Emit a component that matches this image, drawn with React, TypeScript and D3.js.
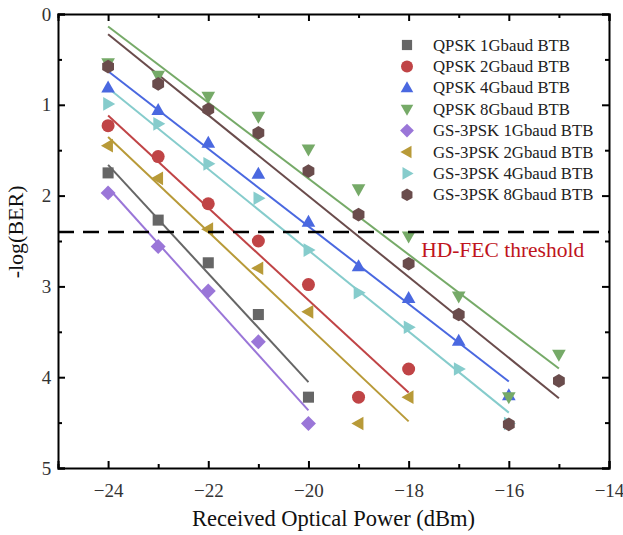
import React, { useEffect, useRef } from "react";
import * as d3 from "d3";

const powers = [-24, -23, -22, -21, -20, -19, -18, -17, -16, -15];

const seriesNames = [
  "QPSK 1Gbaud BTB",
  "QPSK 2Gbaud BTB",
  "QPSK 4Gbaud BTB",
  "QPSK 8Gbaud BTB",
  "GS-3PSK 1Gbaud BTB",
  "GS-3PSK 2Gbaud BTB",
  "GS-3PSK 4Gbaud BTB",
  "GS-3PSK 8Gbaud BTB",
];

const qpsk1 = [1.75, 2.27, 2.74, 3.31, 4.22];
const qpsk2 = [1.23, 1.57, 2.09, 2.5, 2.98, 4.22, 3.91];
const qpsk4 = [0.81, 1.06, 1.42, 1.76, 2.29, 2.78, 3.13, 3.6, 4.2];
const qpsk8 = [0.54, 0.68, 0.91, 1.13, 1.49, 1.93, 2.45, 3.11, 4.22, 3.75];
const gs1 = [1.97, 2.56, 3.05, 3.61, 4.51];
const gs2 = [1.45, 1.81, 2.37, 2.8, 3.28, 4.51, 4.22];
const gs4 = [0.99, 1.21, 1.65, 2.03, 2.6, 3.07, 3.45, 3.91, 4.51];
const gs8 = [0.58, 0.77, 1.05, 1.31, 1.73, 2.21, 2.75, 3.31, 4.52, 4.04];

const seriesValues = [qpsk1, qpsk2, qpsk4, qpsk8, gs1, gs2, gs4, gs8];
const colors = [
  "#666666",
  "#c04446",
  "#4a68e0",
  "#76aa68",
  "#9a76d8",
  "#b89a38",
  "#86cccc",
  "#6a4c4c",
];
const shapes = ["square", "circle", "up", "down", "diamond", "left", "right", "hex"];

const xTicks = [-24, -22, -20, -18, -16, -14];
const yTicks = [0, 1, 2, 3, 4, 5];
const threshold = 2.4;

const W = 623;
const H = 535;

function markerPath(shape: string, r: number) {
  const p = d3.path();
  if (shape === "square") {
    p.rect(-r * 0.85, -r * 0.85, r * 1.7, r * 1.7);
  } else if (shape === "circle") {
    p.arc(0, 0, r, 0, Math.PI * 2);
  } else if (shape === "up") {
    p.moveTo(0, -r * 1.1);
    p.lineTo(r * 1.05, r * 0.75);
    p.lineTo(-r * 1.05, r * 0.75);
    p.closePath();
  } else if (shape === "down") {
    p.moveTo(0, r * 1.1);
    p.lineTo(r * 1.05, -r * 0.75);
    p.lineTo(-r * 1.05, -r * 0.75);
    p.closePath();
  } else if (shape === "left") {
    p.moveTo(-r * 1.1, 0);
    p.lineTo(r * 0.75, -r * 1.05);
    p.lineTo(r * 0.75, r * 1.05);
    p.closePath();
  } else if (shape === "right") {
    p.moveTo(r * 1.1, 0);
    p.lineTo(-r * 0.75, -r * 1.05);
    p.lineTo(-r * 0.75, r * 1.05);
    p.closePath();
  } else if (shape === "diamond") {
    p.moveTo(0, -r * 1.15);
    p.lineTo(r * 1.15, 0);
    p.lineTo(0, r * 1.15);
    p.lineTo(-r * 1.15, 0);
    p.closePath();
  } else {
    for (let i = 0; i < 6; i++) {
      const a = (Math.PI / 3) * i + Math.PI / 6;
      const px = r * 1.05 * Math.cos(a);
      const py = r * 1.05 * Math.sin(a);
      if (i === 0) p.moveTo(px, py);
      else p.lineTo(px, py);
    }
    p.closePath();
  }
  return p.toString();
}

// least squares fit
function fit(xs: number[], ys: number[]) {
  const mx = d3.mean(xs) as number;
  const my = d3.mean(ys) as number;
  let sxy = 0;
  let sxx = 0;
  xs.forEach((x, i) => {
    sxy += (x - mx) * (ys[i] - my);
    sxx += (x - mx) * (x - mx);
  });
  const b = sxy / sxx;
  return (x: number) => my + b * (x - mx);
}

const App = () => {
  const ref = useRef<SVGSVGElement>(null);

  useEffect(() => {
    const svg = d3.select(ref.current);
    svg.selectAll("*").remove();

    const margin = { top: 14, right: 14, bottom: 67, left: 58 };
    const width = W - margin.left - margin.right;
    const height = H - margin.top - margin.bottom;
    const font = "'Liberation Serif', 'Times New Roman', serif";

    const x = d3.scaleLinear().domain([-25, -14]).range([0, width]);
    const y = d3.scaleLinear().domain([0, 5]).range([0, height]);

    const g = svg
      .append("g")
      .attr("transform", `translate(${margin.left},${margin.top})`);

    // fitted lines
    seriesValues.forEach((vals, i) => {
      const xs = powers.slice(0, vals.length);
      const f = fit(xs, vals);
      const x0 = xs[0];
      const x1 = xs[xs.length - 1];
      g.append("line")
        .attr("x1", x(x0))
        .attr("y1", y(f(x0)))
        .attr("x2", x(x1))
        .attr("y2", y(f(x1)))
        .attr("stroke", colors[i])
        .attr("stroke-width", 2);
    });

    // markers
    seriesValues.forEach((vals, i) => {
      g.selectAll(null)
        .data(vals)
        .enter()
        .append("path")
        .attr("transform", (d, j) => `translate(${x(powers[j])},${y(d)})`)
        .attr("d", markerPath(shapes[i], 6.5))
        .attr("fill", colors[i]);
    });

    // threshold
    g.append("line")
      .attr("x1", 0)
      .attr("x2", width)
      .attr("y1", y(threshold))
      .attr("y2", y(threshold))
      .attr("stroke", "#000")
      .attr("stroke-width", 2.5)
      .attr("stroke-dasharray", "16,9");

    g.append("text")
      .attr("x", x(-17.75))
      .attr("y", y(threshold) + 25)
      .attr("fill", "#c0141c")
      .attr("font-family", font)
      .attr("font-size", 21.5)
      .text("HD-FEC threshold");

    // axes
    const xAxisB = d3
      .axisBottom(x)
      .tickValues(d3.range(-25, -13.9, 1))
      .tickSize(-7)
      .tickFormat((d) => (xTicks.includes(+d) ? String(d).replace("-", "\u2212") : ""));
    const gx = g
      .append("g")
      .attr("transform", `translate(0,${height})`)
      .call(xAxisB);
    gx.selectAll(".tick line").attr("y2", (d: any) => (xTicks.includes(+d) ? -7 : -4));
    gx.selectAll("text").attr("dy", "1.35em");

    const gxt = g
      .append("g")
      .call(
        d3
          .axisTop(x)
          .tickValues(d3.range(-25, -13.9, 1))
          .tickSize(-7)
          .tickFormat(() => "")
      );
    gxt.selectAll(".tick line").attr("y2", (d: any) => (xTicks.includes(+d) ? 7 : 4));

    const yMinor = d3.range(0, 5.01, 0.5);
    const gy = g.append("g").call(
      d3
        .axisLeft(y)
        .tickValues(yMinor)
        .tickSize(-7)
        .tickFormat((d) => (yTicks.includes(+d) ? String(d) : ""))
    );
    gy.selectAll(".tick line").attr("x2", (d: any) => (yTicks.includes(+d) ? 7 : 4));
    gy.selectAll("text").attr("dx", "-0.2em");

    const gyr = g
      .append("g")
      .attr("transform", `translate(${width},0)`)
      .call(d3.axisRight(y).tickValues(yMinor).tickSize(-7).tickFormat(() => ""));
    gyr.selectAll(".tick line").attr("x2", (d: any) => (yTicks.includes(+d) ? -7 : -4));

    [gx, gxt, gy, gyr].forEach((a) => {
      a.select(".domain").attr("stroke-width", 2).attr("stroke", "#000");
      a.selectAll(".tick line").attr("stroke-width", 2).attr("stroke", "#000");
      a.selectAll("text")
        .attr("font-family", font)
        .attr("font-size", 19)
        .attr("fill", "#333");
    });

    // axis titles
    svg
      .append("text")
      .attr("x", margin.left + width / 2)
      .attr("y", H - 9)
      .attr("text-anchor", "middle")
      .attr("font-family", font)
      .attr("font-size", 22.5)
      .attr("fill", "#111")
      .text("Received Optical Power (dBm)");

    svg
      .append("text")
      .attr("transform", `translate(23,${margin.top + y(2.4)}) rotate(-90)`)
      .attr("text-anchor", "middle")
      .attr("font-family", font)
      .attr("font-size", 22)
      .attr("fill", "#111")
      .text("-log(BER)");

    // legend
    const lg = svg.append("g").attr("transform", "translate(407,45)");
    seriesNames.forEach((name, i) => {
      const row = lg.append("g").attr("transform", `translate(0,${i * 21.4})`);
      row.append("path").attr("d", markerPath(shapes[i], 6)).attr("fill", colors[i]);
      row
        .append("text")
        .attr("x", 26)
        .attr("y", 5.5)
        .attr("font-family", font)
        .attr("font-size", 16.8)
        .attr("fill", "#222")
        .text(name);
    });
  }, []);

  return <svg ref={ref} width={W} height={H} style={{ display: "block", position: "absolute", left: 0, top: 0 }} />;
};

export default App;
